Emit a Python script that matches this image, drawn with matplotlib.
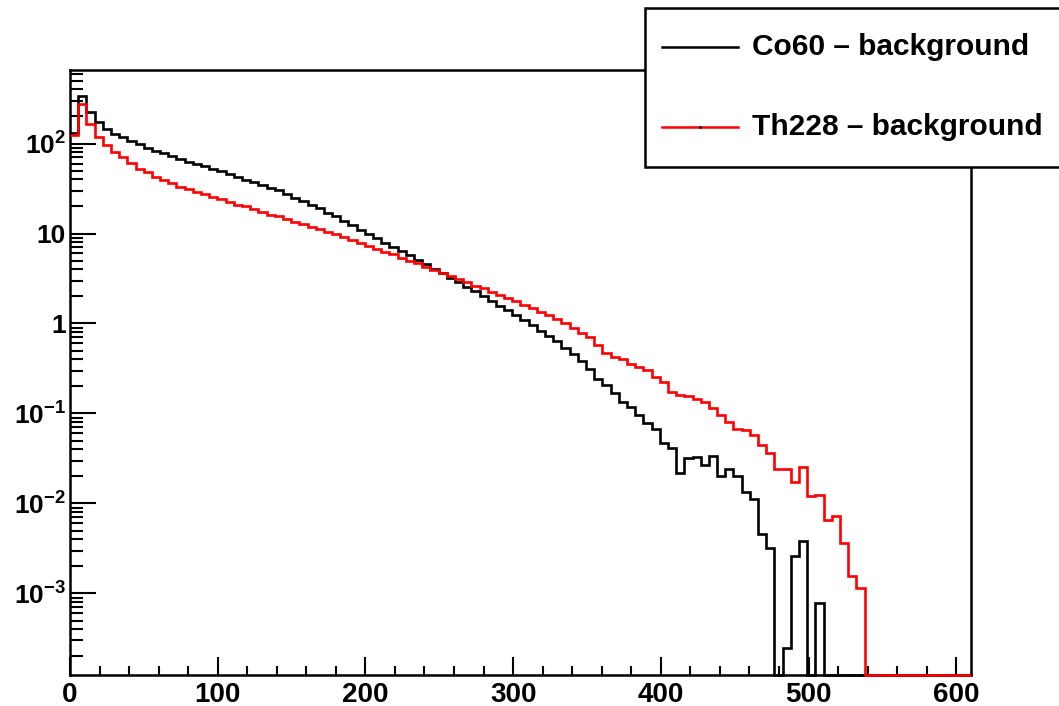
import numpy as np
import matplotlib
matplotlib.use('Agg')
import matplotlib.pyplot as plt
from matplotlib.lines import Line2D
from matplotlib.patches import Rectangle
from matplotlib.ticker import MultipleLocator, LogLocator, FixedLocator, FixedFormatter

plt.rcParams['font.family'] = ['Liberation Sans', 'DejaVu Sans']
plt.rcParams['font.weight'] = 'bold'
plt.rcParams['mathtext.fontset'] = 'custom'
plt.rcParams['mathtext.rm'] = 'Liberation Sans:bold'
plt.rcParams['mathtext.bf'] = 'Liberation Sans:bold'
plt.rcParams['mathtext.it'] = 'Liberation Sans:bold'

# histogram binning: 110 bins from 0 to 610
x_lo, x_hi, n_bins = 0, 610, 110

# Co60 - background (counts per bin)
co60 = [132, 339, 224, 174, 145, 129, 117, 107, 97.7, 89.1,
        83.2, 77.6, 72.4, 67.6, 63.1, 58.9, 56.2, 52.5, 49.0, 45.7,
        42.7, 39.8, 37.2, 34.7, 32.4, 30.2, 27.5, 25.1, 22.9, 20.9,
        19.1, 17.0, 15.5, 13.8, 12.3, 11.0, 9.77, 8.91, 7.94, 7.08,
        6.46, 5.75, 5.13, 4.57, 4.07, 3.63, 3.24, 2.88, 2.57, 2.29,
        2.04, 1.78, 1.58, 1.41, 1.23, 1.10, 0.955, 0.832, 0.724, 0.631,
        0.537, 0.457, 0.380, 0.309, 0.240, 0.209, 0.170, 0.135, 0.119, 0.096,
        0.079, 0.068, 0.047, 0.041, 0.022, 0.032, 0.033, 0.027, 0.034, 0.020,
        0.024, 0.020, 0.0135, 0.0111, 0.0046, 0.0032, 0, 0.00025, 0.0026, 0.0038,
        0, 0.00078, 0, 0, 0, 0, 0, 0, 0, 0,
        0, 0, 0, 0, 0, 0, 0, 0, 0, 0]

# Th228 - background
th228 = [123, 275, 166, 117, 95.5, 81.3, 70.8, 60.3, 52.5, 47.9,
         42.7, 38.9, 36.3, 33.1, 30.9, 28.8, 27.5, 25.7, 24.0, 22.4,
         20.9, 20.0, 18.6, 17.4, 16.2, 15.5, 14.5, 13.5, 12.6, 11.7,
         11.2, 10.5, 9.77, 9.12, 8.51, 7.94, 7.24, 6.76, 6.31, 5.89,
         5.37, 5.01, 4.68, 4.27, 3.98, 3.63, 3.39, 3.09, 2.88, 2.63,
         2.45, 2.24, 2.09, 1.91, 1.78, 1.62, 1.48, 1.35, 1.23, 1.12,
         1.00, 0.891, 0.794, 0.708, 0.575, 0.468, 0.427, 0.398, 0.355, 0.331,
         0.302, 0.257, 0.224, 0.174, 0.162, 0.155, 0.145, 0.135, 0.115, 0.0955,
         0.0813, 0.0676, 0.0661, 0.0575, 0.0447, 0.0363, 0.0240, 0.0240, 0.0174, 0.0257,
         0.0120, 0.0123, 0.0066, 0.0072, 0.0036, 0.00155, 0.00115, 0, 0, 0,
         0, 0, 0, 0, 0, 0, 0, 0, 0, 0]

series_names = ['Co60 \u2013 background', 'Th228 \u2013 background']
series_colors = ['black', 'red']

y_lo, y_hi = 1.24e-4, 656
x_ticks = [0, 100, 200, 300, 400, 500, 600]
y_ticks = [1e-3, 1e-2, 1e-1, 1, 10, 100]
y_tick_labels = ['$10^{-3}$', '$10^{-2}$', '$10^{-1}$', '1', '10', '$10^{2}$']

edges = np.linspace(x_lo, x_hi, n_bins + 1)

fig = plt.figure(figsize=(10.59, 7.06), dpi=100)
ax = fig.add_axes([0.0661, 0.0439, 0.8508, 0.8569])

# empty bins are drawn on the bottom of the frame like ROOT does
for vals, col in zip([co60, th228], series_colors):
    v = np.array(vals, dtype=float)
    v = np.where(v > 0, v, y_lo)
    ax.stairs(v, edges, baseline=None, color=col, lw=1.9, clip_on=False, zorder=3)

ax.set_yscale('log')
ax.set_xlim(x_lo, x_hi)
ax.set_ylim(y_lo, y_hi)

ax.xaxis.set_major_locator(FixedLocator(x_ticks))
ax.xaxis.set_minor_locator(MultipleLocator(20))
ax.yaxis.set_major_locator(FixedLocator(y_ticks))
ax.yaxis.set_major_formatter(FixedFormatter(y_tick_labels))
ax.yaxis.set_minor_locator(LogLocator(base=10, subs=np.arange(2, 10)))
ax.yaxis.set_minor_formatter(plt.NullFormatter())

ax.tick_params(axis='x', which='major', direction='in', length=13, width=1.5,
               labelsize=20, pad=5, top=False)
ax.tick_params(axis='x', which='minor', direction='in', length=6.5, width=1.5, top=False)
ax.tick_params(axis='y', which='major', direction='in', length=19, width=1.5,
               labelsize=19, pad=3, right=False)
ax.tick_params(axis='y', which='minor', direction='in', length=9, width=1.5, right=False)
for lab in ax.get_xticklabels() + ax.get_yticklabels():
    lab.set_fontweight('bold')
for sp in ax.spines.values():
    sp.set_linewidth(1.8)

# legend box (ROOT TLegend style, sits on top of the frame)
def px(x, y):
    return x / 1059, 1 - y / 706

lx, ly = px(645, 167)
box = Rectangle((lx, ly), 1 - lx + 0.01, (167 - 8) / 706, transform=fig.transFigure,
                facecolor='white', edgecolor='black', lw=1.8, zorder=10, clip_on=False)
fig.add_artist(box)
for i, (name, col) in enumerate(zip(series_names, series_colors)):
    yy = [47, 127][i]
    x0, y0 = px(662, yy)
    x1, _ = px(738, yy)
    fig.add_artist(Line2D([x0, x1], [y0, y0], color=col, lw=1.8,
                          transform=fig.transFigure, zorder=11))
    tx, ty = px(752, yy)
    fig.text(tx, ty, name, fontsize=21.5, fontweight='bold', va='center', ha='left', zorder=12)
# small marker dot ROOT leaves on the second entry
mx, my = px(700, 127)
fig.add_artist(Line2D([mx], [my], marker='.', ms=2, color='black',
                      transform=fig.transFigure, zorder=12))

fig.savefig('out.png', dpi=100)
